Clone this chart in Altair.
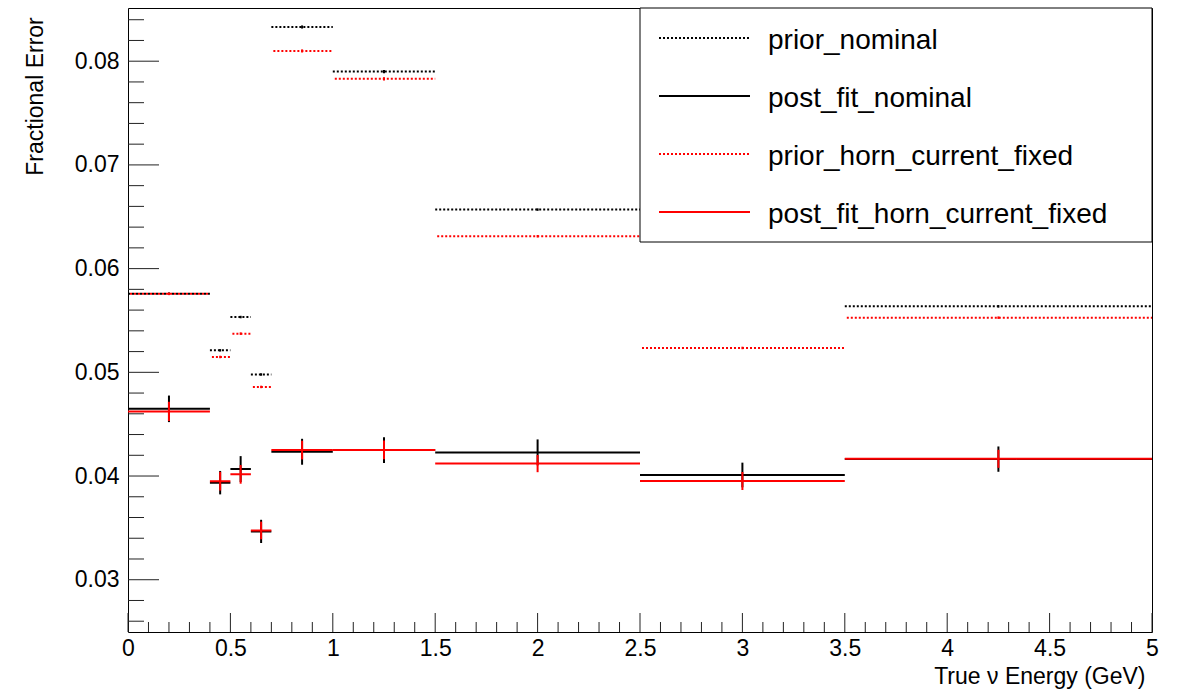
import altair as alt
import pandas as pd
import numpy as np

# ---- data ----
bin_lo = [0.0, 0.4, 0.5, 0.6, 0.7, 1.0, 1.5, 2.5, 3.5]
bin_hi = [0.4, 0.5, 0.6, 0.7, 1.0, 1.5, 2.5, 3.5, 5.0]

prior_nominal = [0.05757, 0.05212, 0.05533, 0.04979, 0.08330, 0.07900, 0.06569, 0.06400, 0.05636]
prior_nominal_err = [0.00012, 0.00012, 0.00012, 0.00012, 0.00015, 0.00015, 0.00012, 0.00012, 0.00012]

post_fit_nominal = [0.04648, 0.03936, 0.04067, 0.03466, 0.04234, 0.04250, 0.04228, 0.04010, 0.04163]
post_fit_nominal_err = [0.00128, 0.00113, 0.00125, 0.00112, 0.00125, 0.00125, 0.00125, 0.00119, 0.00122]

prior_horn_current_fixed = [0.05757, 0.05148, 0.05373, 0.04859, 0.08099, 0.07830, 0.06312, 0.05235, 0.05527]
prior_horn_current_fixed_err = [0.00012, 0.00012, 0.00012, 0.00012, 0.00015, 0.00015, 0.00012, 0.00012, 0.00012]

post_fit_horn_current_fixed = [0.04623, 0.03950, 0.04016, 0.03475, 0.04250, 0.04252, 0.04120, 0.03952, 0.04166]
post_fit_horn_current_fixed_err = [0.00093, 0.00090, 0.00090, 0.00085, 0.00090, 0.00090, 0.00083, 0.00087, 0.00087]

series_names = ["prior_nominal", "post_fit_nominal",
                "prior_horn_current_fixed", "post_fit_horn_current_fixed"]
series_values = [prior_nominal, post_fit_nominal,
                 prior_horn_current_fixed, post_fit_horn_current_fixed]
series_errors = [prior_nominal_err, post_fit_nominal_err,
                 prior_horn_current_fixed_err, post_fit_horn_current_fixed_err]
series_group = ["black", "black", "red", "red"]

x_major = [0, 0.5, 1, 1.5, 2, 2.5, 3, 3.5, 4, 4.5, 5]
y_major = [0.03, 0.04, 0.05, 0.06, 0.07, 0.08]
x_minor = [round(v, 2) for v in np.arange(0.1, 5.0, 0.1) if round(v * 10) % 5 != 0]
y_minor = [round(v, 3) for v in np.arange(0.026, 0.0851, 0.002) if round(v * 1000) % 10 != 0]

# ---- build tables ----
rows = []
for order, (name, vals, errs, grp) in enumerate(zip(series_names, series_values,
                                                    series_errors, series_group)):
    for lo, hi, v, e in zip(bin_lo, bin_hi, vals, errs):
        rows.append({"series": name, "grp": grp, "order": order, "lo": lo, "hi": hi,
                     "mid": (lo + hi) / 2, "val": v, "low": v - e, "high": v + e})
df = pd.DataFrame(rows)
leg = pd.DataFrame({"series": series_names})

W, H = 1024, 624
FONT = "Liberation Sans"
X_DOM = [0, 5]
Y_DOM = [0.02496, 0.08513]

color = alt.Color("series:N", scale=alt.Scale(domain=series_names,
                  range=["#000000", "#000000", "#ff0000", "#ff0000"]), legend=None)
dash = alt.StrokeDash("series:N", scale=alt.Scale(domain=series_names,
                      range=[[2, 2], [1, 0], [2, 2], [1, 0]]), legend=None)

xs = alt.Scale(domain=X_DOM, nice=False, zero=False)
ys = alt.Scale(domain=Y_DOM, nice=False, zero=False)

xaxis = alt.Axis(values=x_major, format="~g", ticks=False, domain=False, grid=False,
                 labelFlush=False,
                 labelFont=FONT, labelFontSize=23, labelColor="#000", labelPadding=5,
                 title="True ν Energy (GeV)", titleFont=FONT, titleFontSize=23,
                 titleFontWeight="normal", titleColor="#000", titleAlign="right",
                 titleX=1017, titleY=44, titleBaseline="middle", titleAnchor="end")
yaxis = alt.Axis(values=y_major, format=".2f", ticks=False, domain=False, grid=False,
                 labelFlush=False,
                 labelFont=FONT, labelFontSize=23, labelColor="#000", labelPadding=9,
                 title="Fractional Error", titleFont=FONT, titleFontSize=23,
                 titleFontWeight="normal", titleColor="#000", titleAngle=270,
                 titleX=-93, titleY=88, titleAlign="center", titleBaseline="middle")

base = alt.Chart(df)

hist_black = base.transform_filter(alt.datum.grp == "black").mark_rule(strokeWidth=2).encode(
    x=alt.X("lo:Q", scale=xs, axis=xaxis),
    x2="hi:Q",
    y=alt.Y("val:Q", scale=ys, axis=yaxis),
    color=color, strokeDash=dash,
    order="order:Q",
)
hist_red = base.transform_filter(alt.datum.grp == "red").mark_rule(
    strokeWidth=2, strokeDashOffset=2).encode(
    x=alt.X("lo:Q", scale=xs),
    x2="hi:Q",
    y=alt.Y("val:Q", scale=ys),
    color=color, strokeDash=dash,
    order="order:Q",
)
err_black = base.transform_filter(alt.datum.grp == "black").mark_rule(strokeWidth=2).encode(
    x=alt.X("mid:Q", scale=xs),
    y=alt.Y("low:Q", scale=ys),
    y2="high:Q",
    color=color,
)
err_red = base.transform_filter(alt.datum.grp == "red").mark_rule(strokeWidth=2).encode(
    x=alt.X("mid:Q", scale=xs),
    y=alt.Y("low:Q", scale=ys),
    y2="high:Q",
    color=color,
)

tick_style = dict(color="#222", strokeWidth=1)
ymaj = alt.Chart(pd.DataFrame({"v": y_major})).mark_rule(**tick_style).encode(
    y=alt.Y("v:Q", scale=ys), x=alt.value(0), x2=alt.value(31))
ymin = alt.Chart(pd.DataFrame({"v": y_minor})).mark_rule(**tick_style).encode(
    y=alt.Y("v:Q", scale=ys), x=alt.value(0), x2=alt.value(16))
xmaj = alt.Chart(pd.DataFrame({"v": x_major})).mark_rule(**tick_style).encode(
    x=alt.X("v:Q", scale=xs), y=alt.value(H), y2=alt.value(H - 19))
xmin = alt.Chart(pd.DataFrame({"v": x_minor})).mark_rule(**tick_style).encode(
    x=alt.X("v:Q", scale=xs), y=alt.value(H), y2=alt.value(H - 10))

data_layer = alt.layer(ymaj, ymin, xmaj, xmin, hist_black, err_black, hist_red, err_red)

# ---- legend box (drawn over the data, like the reference) ----
legy = alt.Y("series:N", scale=alt.Scale(type="point", domain=series_names,
             range=[30, 204], padding=0), axis=None)
box = alt.Chart(pd.DataFrame({"a": [0]})).mark_rect(
    fill="white", stroke="#000", strokeWidth=1).encode(
    x=alt.value(512), x2=alt.value(1024), y=alt.value(0), y2=alt.value(234))
leg_lines = alt.Chart(leg).mark_rule(strokeWidth=2).encode(
    x=alt.value(531), x2=alt.value(622), y=legy, color=color, strokeDash=dash)
leg_text = alt.Chart(leg).mark_text(align="left", baseline="alphabetic", dy=11,
                                    font=FONT, fontSize=28, color="#000").encode(
    x=alt.value(640), y=legy, text="series:N")
legend_layer = alt.layer(box, leg_lines, leg_text)

chart = alt.layer(data_layer, legend_layer).resolve_scale(y="independent").properties(
    width=W, height=H,
    autosize=alt.AutoSizeParams(type="none"),
    padding={"left": 128, "top": 8, "right": 26, "bottom": 60},
    background="white",
).configure_view(stroke="#000", strokeWidth=1)

chart.save("out.html", embed_options={"renderer": "svg", "actions": False})
